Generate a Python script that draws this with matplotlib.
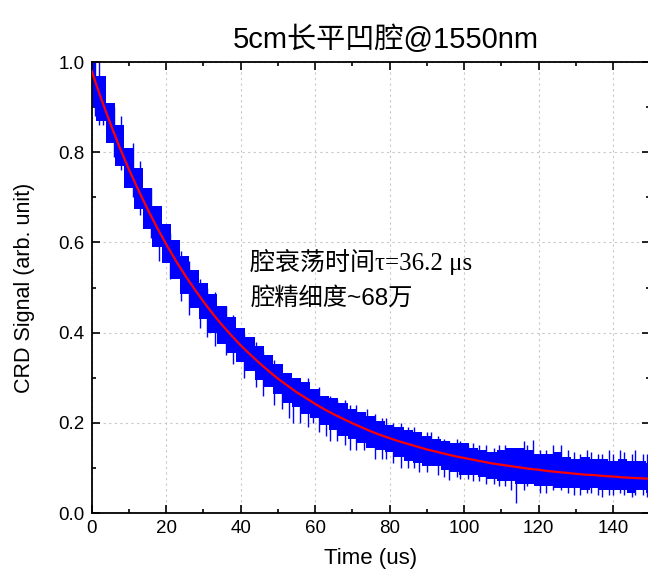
import numpy as np
import matplotlib
matplotlib.use('Agg')
from matplotlib import pyplot as plt
from matplotlib.ticker import MultipleLocator

# time axis (us), sampled every 2.5 us
t = [0, 2.5, 5, 7.5, 10, 12.5, 15, 17.5, 20, 22.5, 25, 27.5, 30, 32.5, 35, 37.5,
     40, 42.5, 45, 47.5, 50, 52.5, 55, 57.5, 60, 62.5, 65, 67.5, 70, 72.5, 75, 77.5,
     80, 82.5, 85, 87.5, 90, 92.5, 95, 97.5, 100, 102.5, 105, 107.5, 110, 112.5,
     115, 117.5, 120, 122.5, 125, 127.5, 130, 132.5, 135, 137.5, 140, 142.5, 145,
     147.5, 150]

# red fitted decay curve
fit = [0.98, 0.92, 0.864, 0.811, 0.762, 0.717, 0.674, 0.634, 0.596, 0.561, 0.528,
       0.498, 0.469, 0.442, 0.417, 0.394, 0.372, 0.352, 0.333, 0.315, 0.298, 0.283,
       0.268, 0.255, 0.242, 0.230, 0.219, 0.209, 0.199, 0.190, 0.181, 0.173, 0.166,
       0.159, 0.153, 0.147, 0.141, 0.136, 0.131, 0.126, 0.122, 0.118, 0.114, 0.110,
       0.107, 0.104, 0.101, 0.098, 0.096, 0.093, 0.091, 0.089, 0.087, 0.085, 0.084,
       0.082, 0.081, 0.079, 0.078, 0.077, 0.076]

# upper / lower edge of the noisy blue signal band
sig_hi = [1.00, 0.97, 0.91, 0.86, 0.81, 0.765, 0.72, 0.68, 0.64, 0.605, 0.57, 0.54,
          0.51, 0.485, 0.46, 0.435, 0.41, 0.39, 0.37, 0.35, 0.33, 0.31, 0.30,
          0.29, 0.275, 0.26, 0.255, 0.245, 0.23, 0.225, 0.215, 0.205, 0.195, 0.19,
          0.185, 0.18, 0.17, 0.165, 0.16, 0.155, 0.155, 0.145, 0.14, 0.135, 0.14,
          0.145, 0.145, 0.14, 0.13, 0.13, 0.135, 0.125, 0.12, 0.125, 0.12, 0.12,
          0.115, 0.12, 0.115, 0.115, 0.11]
sig_lo = [0.90, 0.87, 0.82, 0.77, 0.72, 0.675, 0.63, 0.59, 0.555, 0.52, 0.485, 0.455,
          0.43, 0.40, 0.375, 0.355, 0.335, 0.315, 0.295, 0.28, 0.265, 0.245, 0.235,
          0.22, 0.21, 0.195, 0.185, 0.17, 0.165, 0.155, 0.145, 0.14, 0.135, 0.125,
          0.115, 0.11, 0.105, 0.105, 0.095, 0.09, 0.085, 0.085, 0.08, 0.075, 0.07,
          0.07, 0.065, 0.065, 0.06, 0.06, 0.055, 0.055, 0.055, 0.05, 0.055, 0.05,
          0.05, 0.05, 0.045, 0.05, 0.045]

# single noise spikes sticking out of the band
spike_x = [1, 2, 3, 6, 8, 11, 13, 16, 18, 21, 24, 26, 29, 31, 33, 36, 38, 41, 44,
           46, 49, 51, 53, 54, 56, 58, 59.5, 61, 63, 64, 66, 68, 69.5, 71, 73, 74,
           76, 78, 79, 81, 83, 85, 86.5, 88, 90, 91, 93, 94.5, 96, 98, 99, 101,
           102.5, 104, 106, 108, 109.5, 111, 112.5, 114, 116, 117, 118.5, 120.5,
           122, 124, 126, 128, 129.5, 131, 133, 134, 136, 137, 139, 140, 142, 143,
           145, 146, 148, 149]
spike_lo = [0.88, 0.86, 0.86, 0.79, 0.76, 0.70, 0.66, 0.61, 0.56, 0.52, 0.47, 0.44,
            0.41, 0.39, 0.37, 0.35, 0.33, 0.30, 0.28, 0.26, 0.24, 0.23, 0.21, 0.20,
            0.20, 0.19, 0.20, 0.18, 0.17, 0.16, 0.16, 0.15, 0.14, 0.14, 0.14, 0.20,
            0.12, 0.12, 0.12, 0.11, 0.10, 0.10, 0.10, 0.09, 0.09, 0.15, 0.085, 0.08,
            0.073, 0.08, 0.075, 0.075, 0.07, 0.072, 0.065, 0.065, 0.06, 0.06, 0.05,
            0.022, 0.05, 0.06, 0.10, 0.045, 0.045, 0.05, 0.05, 0.045, 0.04, 0.04,
            0.045, 0.045, 0.04, 0.036, 0.04, 0.04, 0.045, 0.04, 0.035, 0.04, 0.04,
            0.035]
spike_hi = [1.00, 1.00, 0.97, 0.90, 0.88, 0.82, 0.78, 0.72, 0.67, 0.62, 0.58, 0.56,
            0.52, 0.50, 0.49, 0.46, 0.44, 0.40, 0.38, 0.36, 0.34, 0.31, 0.31, 0.30,
            0.29, 0.30, 0.27, 0.28, 0.26, 0.26, 0.25, 0.25, 0.24, 0.24, 0.22, 0.23,
            0.22, 0.21, 0.21, 0.20, 0.20, 0.19, 0.19, 0.18, 0.18, 0.18, 0.17, 0.165,
            0.16, 0.165, 0.16, 0.15, 0.155, 0.15, 0.15, 0.145, 0.15, 0.15, 0.145,
            0.10, 0.16, 0.15, 0.162, 0.14, 0.14, 0.15, 0.15, 0.14, 0.135, 0.13,
            0.14, 0.135, 0.13, 0.13, 0.14, 0.13, 0.14, 0.135, 0.13, 0.14, 0.13,
            0.13]

x_ticks = [0, 20, 40, 60, 80, 100, 120, 140]
y_ticks = [0.0, 0.2, 0.4, 0.6, 0.8, 1.0]

fig = plt.figure(figsize=(6.48, 5.7), dpi=100)
ax = fig.add_axes([0.1415, 0.1, 0.862, 0.791])

ax.fill_between(t, sig_lo, sig_hi, step='mid', color='#0000ff', lw=0, zorder=2)
ax.vlines(spike_x, spike_lo, spike_hi, color='#0000ff', lw=1.0, zorder=2)
ax.plot(t, fit, color='#ff0000', lw=1.6, zorder=3)

ax.set_xlim(0, 150)
ax.set_ylim(0, 1.0)
ax.set_xticks(x_ticks)
ax.set_yticks(y_ticks)
ax.set_yticklabels(['%.1f' % v for v in y_ticks])
ax.xaxis.set_minor_locator(MultipleLocator(10))
ax.yaxis.set_minor_locator(MultipleLocator(0.1))
ax.tick_params(which='both', direction='in', top=True, right=True, width=1.2,
               labelsize=13.5, pad=5)
ax.tick_params(which='major', length=6)
ax.tick_params(which='minor', length=3)
for lab in ax.get_xticklabels() + ax.get_yticklabels():
    lab.set_family('Liberation Sans')
for s in ax.spines.values():
    s.set_linewidth(1.3)
ax.grid(True, which='major', ls=(0, (2, 3)), color='#c8c8c8', lw=0.8, zorder=0)

ax.set_xlabel('Time (us)', family='Liberation Sans', fontsize=16, labelpad=8)
ax.set_ylabel('CRD Signal (arb. unit)', family='Liberation Sans', fontsize=15.5,
              labelpad=17)

fig.text(0.596, 0.93, '5cm长平凹腔@1550nm', ha='center', va='center', fontsize=21,
         family=['Liberation Sans', 'Noto Sans CJK SC'])

ax.text(42.6, 0.556, '腔衰荡时间τ=36.2 μs', ha='left', va='center', fontsize=18,
        family=['Liberation Serif', 'Noto Sans CJK SC'], zorder=4)
ax.text(42.6, 0.477, '腔精细度~68万', ha='left', va='center', fontsize=17.5,
        family=['Liberation Sans', 'Noto Sans CJK SC'], zorder=4)

fig.savefig('out.png', dpi=100)
